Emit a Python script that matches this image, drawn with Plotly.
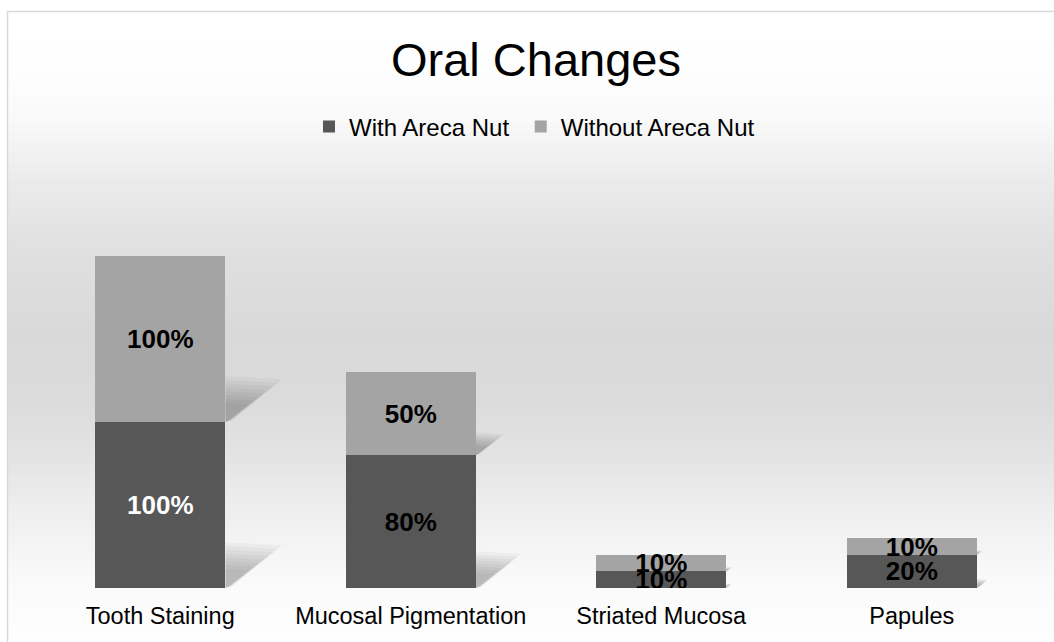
import plotly.graph_objects as go

categories = ["Tooth Staining", "Mucosal Pigmentation", "Striated Mucosa", "Papules"]
with_areca = [100, 80, 10, 20]
without_areca = [100, 50, 10, 10]
series_names = ["With Areca Nut", "Without Areca Nut"]
title_text = "Oral Changes"

W, H = 1054, 642
ML, MR, MT, MB = 35, 17, 150, 54
PW, PH = W - ML - MR, H - MT - MB
YMAX = PH * 100 / 166.0

def px2paper_x(X):
    return (X - ML) / PW

def px2paper_y(Y):
    return (H - MB - Y) / PH

xs = list(range(len(categories)))
fmt = lambda v: f"{v}%"

dark_text = ["white"] + ["black"] * (len(categories) - 1)
LABEL_FONT = "Liberation Sans, Arial"

fig = go.Figure()
fig.add_trace(go.Bar(
    x=xs, y=with_areca, name=series_names[0] + "\u00a0",
    marker=dict(color="#575757", line=dict(width=0)),
    text=[fmt(v) for v in with_areca], textposition="inside",
    insidetextanchor="middle", textangle=0, constraintext="none",
    textfont=dict(family=LABEL_FONT, size=26, color=dark_text, weight="bold"),
))
fig.add_trace(go.Bar(
    x=xs, y=without_areca, name=series_names[1],
    marker=dict(color="#a4a4a4", line=dict(width=0)),
    text=[fmt(v) for v in without_areca], textposition="inside",
    insidetextanchor="middle", textangle=0, constraintext="none",
    textfont=dict(family=LABEL_FONT, size=26, color="black", weight="bold"),
))

shapes = []
# background gradient (white -> grey -> white)
stops = [(11, 255), (70, 254), (120, 249), (180, 235), (250, 224), (330, 217),
         (400, 219), (460, 228), (520, 240), (580, 250), (642, 254)]

def grey_at(Y):
    for (y0, g0), (y1, g1) in zip(stops, stops[1:]):
        if y0 <= Y <= y1:
            return g0 + (g1 - g0) * (Y - y0) / (y1 - y0)
    return stops[-1][1]

Y = 11
step = 3
while Y < H:
    g = int(round(grey_at(Y + step / 2)))
    shapes.append(dict(type="rect", xref="paper", yref="paper", layer="below",
                       x0=px2paper_x(7), x1=px2paper_x(W + 20),
                       y0=px2paper_y(Y), y1=px2paper_y(Y + step + 0.6),
                       fillcolor=f"rgb({g},{g},{g})", line=dict(width=0)))
    Y += step
# chart border
shapes.append(dict(type="rect", xref="paper", yref="paper", layer="below",
                   x0=px2paper_x(7.5), x1=px2paper_x(W + 20),
                   y0=px2paper_y(11.5), y1=px2paper_y(H + 20),
                   line=dict(color="#d9d9d9", width=1.5), fillcolor="rgba(0,0,0,0)"))

# soft perspective shadows to the right of each segment
half = 0.26
for i in xs:
    segs = [(0, with_areca[i]), (with_areca[i], without_areca[i])]
    for base, v in segs:
        xr = i + half
        wdt = 0.0019 * v
        for s in [1.2, 1.1, 1.0, 0.9, 0.8, 0.7, 0.6, 0.5]:
            path = (f"M{xr},{base + 0.23 * v * s} "
                    f"L{xr + wdt * s},{base + 0.215 * v * s} "
                    f"L{xr + 0.12 * wdt * s},{base + 0.01 * v} "
                    f"L{xr},{base} Z")
            shapes.append(dict(type="path", xref="x", yref="y", layer="below",
                               path=path, fillcolor="rgba(0,0,0,0.036)",
                               line=dict(width=0)))

fig.update_layout(
    width=W, height=H,
    margin=dict(l=ML, r=MR, t=MT, b=MB, pad=0),
    paper_bgcolor="white", plot_bgcolor="rgba(0,0,0,0)",
    barmode="stack", bargap=0.48,
    font=dict(family=LABEL_FONT, color="black"),
    title=dict(text=title_text, x=536 / W, xanchor="center",
               y=1 - 60 / H, yanchor="middle", yref="container",
               font=dict(size=47, color="black", family=LABEL_FONT)),
    legend=dict(orientation="h", x=px2paper_x(309), xanchor="left",
                y=px2paper_y(127), yanchor="middle",
                bgcolor="rgba(0,0,0,0)", font=dict(size=24, color="black"),
                traceorder="normal"),
    xaxis=dict(range=[-0.5, len(categories) - 0.5], tickmode="array", tickvals=xs,
               ticktext=categories, showgrid=False, zeroline=False, showline=False,
               ticks="", ticklabelstandoff=11,
               tickfont=dict(size=23.5, color="black"), fixedrange=True),
    yaxis=dict(range=[0, YMAX], visible=False, showgrid=False, zeroline=False,
               fixedrange=True),
    shapes=shapes,
    showlegend=True,
)

fig.write_html("out.html",
               config={"displayModeBar": False},
               post_script="document.documentElement.style.margin='0';"
                           "document.body.style.margin='0';"
                           "document.body.style.overflow='hidden';")
